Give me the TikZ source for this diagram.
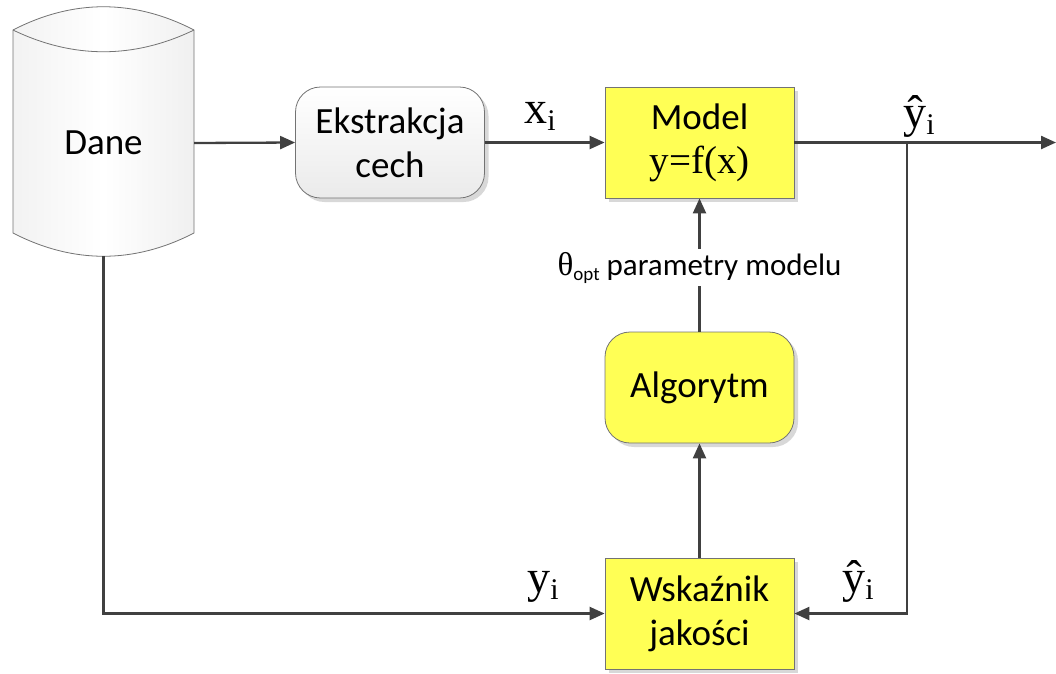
\documentclass[tikz,border=0pt]{standalone}
\usepackage{fontspec}
\setmainfont{Carlito}
\newfontfamily\serif{Liberation Serif}
\usetikzlibrary{arrows.meta,shadows}
\definecolor{boxyellow}{RGB}{255,255,85}
\definecolor{linegray}{RGB}{64,64,64}
\begin{document}
\begin{tikzpicture}[x=1pt,y=-1pt,
  conn/.style={draw=linegray,line width=2.3pt},
  arr/.style={conn,-{Triangle[length=15pt,width=13pt]}},
  boxbase/.style={draw=black!55,line width=0.8pt,minimum width=189pt,minimum height=111pt,
    align=center,inner sep=0pt,font=\fontsize{37}{44}\selectfont,
    drop shadow={shadow xshift=4pt,shadow yshift=-4pt,fill=black!30,opacity=0.5}},
  ybox/.style={boxbase,fill=boxyellow},
  yround/.style={ybox,rounded corners=25pt},
  ground/.style={boxbase,rounded corners=25pt,top color=white,bottom color=black!8},
  lbl/.style={font=\serif\fontsize{46}{46}\selectfont,inner sep=0pt,anchor=base}]
\useasboundingbox (0,0) rectangle (1056,673);

% cylinder
\draw[draw=black!55,line width=0.8pt,left color=black!5,right color=black!6,middle color=white]
  (13,30) .. controls (73,-1) and (134,-1) .. (194,30) -- (194,233)
  .. controls (134,264) and (73,264) .. (13,233) -- cycle;
\draw[draw=black!55,line width=0.8pt] (13,30) .. controls (73,59) and (134,59) .. (194,30);
\node[minimum width=181pt,minimum height=226pt,inner sep=0pt,font=\fontsize{37}{44}\selectfont] (dane) at (103.5,143) {Dane};

\node[ground] (ext) at (390,142.5) {Ekstrakcja\\cech};
\node[ybox] (model) at (699.5,142.5) {Model\\{\serif\fontsize{39}{44}\selectfont y=f(x)}};
\node[yround] (alg) at (699.5,387.5) {Algorytm};
\node[ybox] (wsk) at (699.5,613.5) {Wskaźnik\\jakości};

\coordinate (out) at (1056,142.5);
\coordinate (br) at (907,142.5);

\draw[arr] (dane.east) -- (ext.west);
\draw[arr] (ext.east) -- (model.west);
\draw[arr] (model.east) -- (out);
\draw[arr] (br) |- (wsk.east);
\draw[arr] (dane.south) |- (wsk.west);
\draw[arr] (wsk.north) -- (alg.south);
\draw[arr] (alg.north) -- (model.south)
  node[pos=0.48,fill=white,inner sep=3pt,font=\fontsize{31}{31}\selectfont]
  (theta) {{\serif\fontsize{33}{33}\selectfont θ}\raisebox{-5pt}{\fontsize{19}{19}\selectfont opt} parametry modelu};

\node[lbl] (lx) at (540,123) {x\raisebox{-7pt}{\fontsize{30}{30}\selectfont i}};
\node[lbl] (ly1) at (919,127) {ŷ\raisebox{-7pt}{\fontsize{30}{30}\selectfont i}};
\node[lbl] (ly) at (543,592) {y\raisebox{-7pt}{\fontsize{30}{30}\selectfont i}};
\node[lbl] (ly2) at (858,592) {ŷ\raisebox{-7pt}{\fontsize{30}{30}\selectfont i}};
\end{tikzpicture}
\end{document}
